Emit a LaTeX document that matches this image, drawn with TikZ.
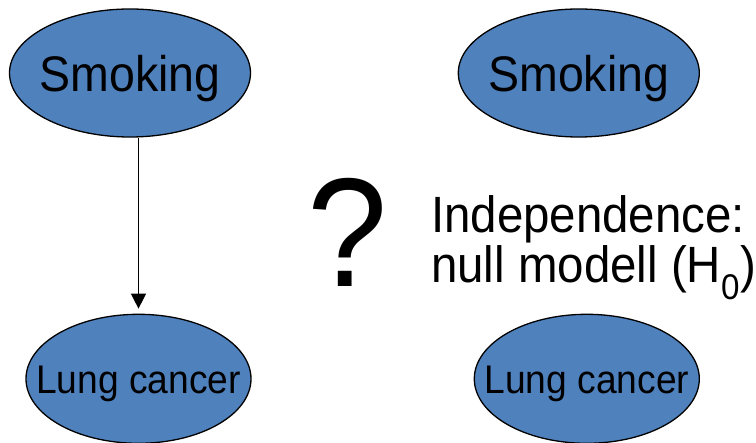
\documentclass[tikz,border=0pt]{standalone}
\usepackage{fontspec}
\setmainfont[FakeStretch=0.93]{Liberation Sans}
\usepackage{tikz}
\usetikzlibrary{positioning,shapes.geometric,arrows.meta}

\definecolor{nodeblue}{HTML}{4F81BD}

\begin{document}
\begin{tikzpicture}[
            x=1pt, y=-1pt,
            var node/.style={ellipse,draw,line width=1.3pt,fill=nodeblue,inner sep=0pt,text depth=0pt},
            smoke node/.style={var node,minimum width=241pt,minimum height=128pt,text height=38pt,font=\fontsize{50}{58}\selectfont},
            cancer node/.style={var node,minimum width=225pt,minimum height=129pt,text height=30pt,font=\fontsize{40}{46}\selectfont},
            every edge/.style={draw,line width=1.4pt,-{Triangle[length=15pt,width=15pt]}},
        ]
            \useasboundingbox (0,0) rectangle (756,443);

            % causal model
            \node[smoke node] (smoke1) at (130,73) {\makebox[0pt]{Smoking}};
            \node[cancer node, below=176pt of smoke1, xshift=8.5pt] (cancer1) {\makebox[0pt]{Lung cancer}};

            \path (smoke1.south -| cancer1.north) edge ([yshift=5pt]cancer1.north);

            % null model
            \node[smoke node, right=206.5pt of smoke1] (smoke2) {\makebox[0pt]{Smoking}};
            \node[cancer node, right=222pt of cancer1] (cancer2) {\makebox[0pt]{Lung cancer}};

            \node[anchor=base, inner sep=0pt, font=\fontsize{155}{155}\selectfont] (query) at (347.5,287) {?};
            \node[anchor=base west, align=left, inner sep=0pt, font=\fontsize{51}{50}\selectfont] (nullmodel) at (431,283)
                {Independence:\\null modell (H\textsubscript{0})};
        \end{tikzpicture}
\end{document}
